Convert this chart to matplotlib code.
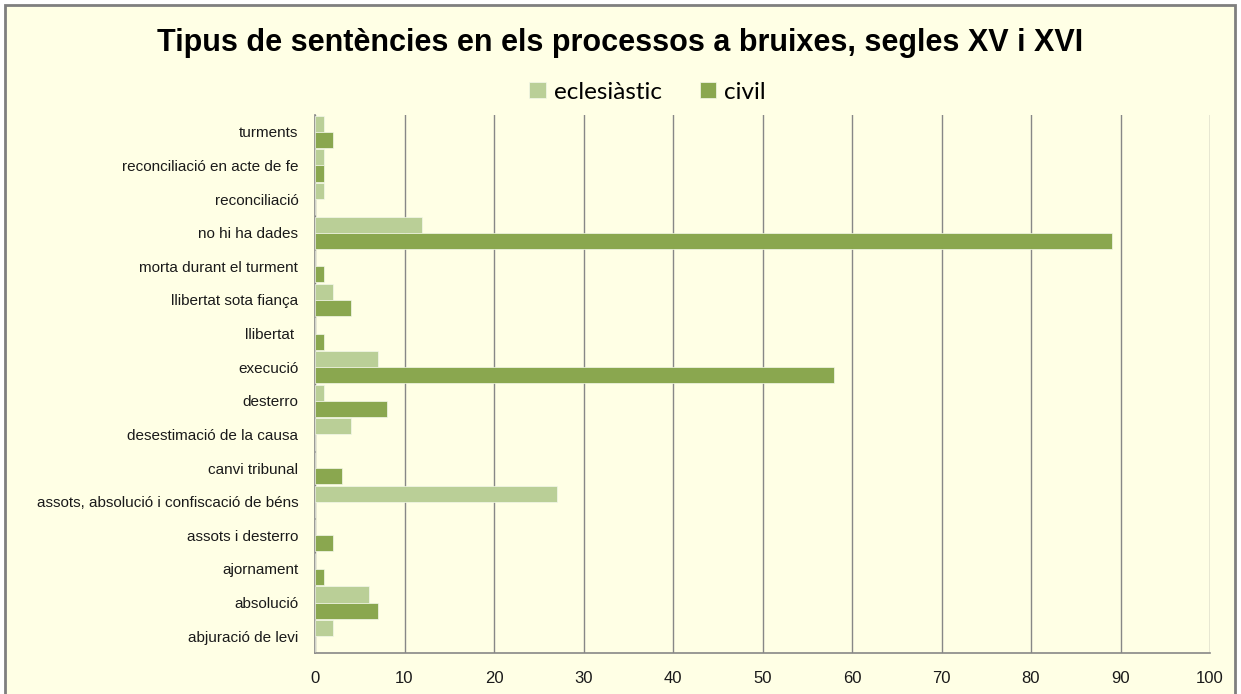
#!/usr/bin/env python3

import matplotlib.pyplot as plt
import numpy as np
from matplotlib.patches import Rectangle

# Categories, top to bottom as they appear in the chart
categories = [
    "turments",
    "reconciliació en acte de fe",
    "reconciliació",
    "no hi ha dades",
    "morta durant el turment",
    "llibertat sota fiança",
    "llibertat ",
    "execució",
    "desterro",
    "desestimació de la causa",
    "canvi tribunal",
    "assots, absolució i confiscació de béns",
    "assots i desterro",
    "ajornament",
    "absolució",
    "abjuració de levi",
]
eclesiastic = [1, 1, 1, 12, 0, 2, 0, 7, 1, 4, 0, 27, 0, 0, 6, 2]
civil = [2, 1, 0, 89, 1, 4, 1, 58, 8, 0, 3, 0, 2, 1, 7, 0]
series_names = ["eclesiàstic", "civil"]
x_ticks = list(range(0, 101, 10))

BG = "#FFFFE5"
LIGHT = "#BACF97"
DARK = "#8AA74F"
GRID = "#878787"
sans = ["Liberation Sans", "DejaVu Sans"]

fig = plt.figure(figsize=(12.41, 6.94), dpi=100, facecolor="white")

# chart area with grey border, like the Excel frame
frame = Rectangle((5 / 1241, -0.05), 1230 / 1241, 1.05 - 5 / 694,
                  transform=fig.transFigure, facecolor=BG, edgecolor="#7F7F7F",
                  linewidth=2, zorder=-10)
fig.add_artist(frame)

ax = fig.add_axes([315 / 1241, 1 - 653 / 694, 895 / 1241, 538 / 694])
ax.set_zorder(5)
ax.set_facecolor(BG)

y = np.arange(len(categories))
h = 0.48
ax.barh(y - h / 2, eclesiastic, height=h, color=LIGHT, label=series_names[0],
        edgecolor="#F4F8EA", linewidth=0.5, zorder=3)
ax.barh(y + h / 2, civil, height=h, color=DARK, label=series_names[1],
        edgecolor="#F4F8EA", linewidth=0.5, zorder=3)

ax.set_xlim(0, 100)
ax.set_ylim(len(categories) - 0.5, -0.5)
ax.set_xticks(x_ticks)
ax.set_xticklabels([str(t) for t in x_ticks], family=sans, fontsize=12, color="#1A1A1A")
ax.set_yticks(y)
ax.set_yticklabels(categories, family=sans, fontsize=11, color="#1A1A1A")
ax.tick_params(axis="x", length=0, pad=13)
ax.tick_params(axis="y", length=0, pad=12)

ax.grid(axis="x", color=GRID, linewidth=1, zorder=1)
for side in ["top", "right"]:
    ax.spines[side].set_visible(False)
for side in ["left", "bottom"]:
    ax.spines[side].set_color(GRID)
    ax.spines[side].set_linewidth(1.2)

fig.text(0.5, 1 - 51 / 694, "Tipus de sentències en els processos a bruixes, segles XV i XVI",
         ha="center", va="baseline", fontsize=22, fontweight="bold",
         family=sans, zorder=6)

fig.legend(loc="center", bbox_to_anchor=(0.522, 0.867), ncol=2, frameon=False,
           prop={"family": ["Lato", "DejaVu Sans"], "size": 17.5},
           handlelength=0.66, handleheight=0.66, handletextpad=0.33, columnspacing=1.6)

fig.savefig("out.png", dpi=100, facecolor=fig.get_facecolor())
